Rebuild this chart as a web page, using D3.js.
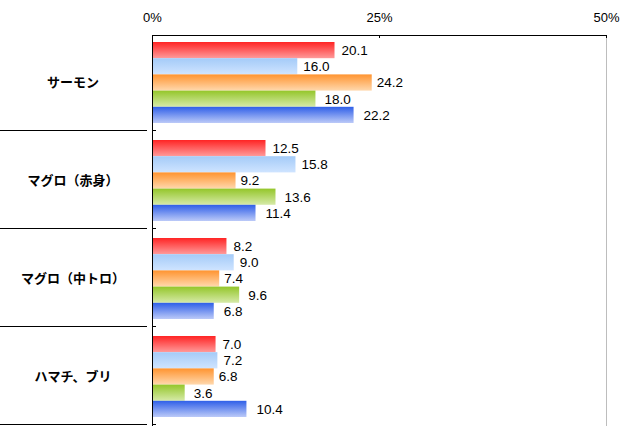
<!DOCTYPE html>
<html>
<head>
<meta charset="utf-8">
<script src="https://cdn.jsdelivr.net/npm/d3@7"></script>
<style>
  body { margin: 0; background: #fff; }
  svg { display: block; }
  .num { font-family: "Liberation Sans", Arial, sans-serif; font-size: 13.5px; fill: #000; }
  .tick text.num { font-size: 13px; }
  .cat { font-family: "Noto Sans CJK JP", sans-serif; font-size: 13px; font-weight: bold; fill: #000; }
</style>
</head>
<body>
<div class="viz"></div>
<script>
//////////////////////////
// Data
//////////////////////////

var categories = ['サーモン', 'マグロ（赤身）', 'マグロ（中トロ）', 'ハマチ、ブリ'];

// one array per series, in category order
var series1 = [20.1, 12.5, 8.2, 7.0];
var series2 = [16.0, 15.8, 9.0, 7.2];
var series3 = [24.2, 9.2, 7.4, 6.8];
var series4 = [18.0, 13.6, 9.6, 3.6];
var series5 = [22.2, 11.4, 6.8, 10.4];

var seriesKeys = ['s1', 's2', 's3', 's4', 's5'];
var seriesValues = [series1, series2, series3, series4, series5];

var tickValues = [0, 25, 50];

//////////////////////////
// Styles
//////////////////////////

// gradient top -> bottom for each series
var seriesColors = [
    ['#ff2424', '#ff9a9a'],
    ['#a4cbf8', '#cfe4ff'],
    ['#ff9430', '#ffd8ad'],
    ['#94c62a', '#d6eaa8'],
    ['#2f5fe8', '#bccaf8'],
];
var labelGaps = [7, 6, 5, 9, 10];

//////////////////////////
// D3 Stuff
//////////////////////////

var W = 627, H = 426;

var svg = d3.select('div.viz')
    .append('svg')
    .attr('width', W)
    .attr('height', H);

var defs = svg.append('defs');
seriesKeys.forEach(function(k, i) {
    var g = defs.append('linearGradient')
        .attr('id', 'grad-' + k)
        .attr('x1', 0).attr('y1', 0)
        .attr('x2', 0).attr('y2', 1);
    g.append('stop').attr('offset', '0%').attr('stop-color', seriesColors[i][0]);
    g.append('stop').attr('offset', '100%').attr('stop-color', seriesColors[i][1]);
});

var plotTop = 35;

var xScale = d3.scaleLinear()
    .domain([0, 50])
    .range([152, 606]);

var yScale = d3.scaleBand()
    .domain(categories)
    .range([31.5, 423.5]);

var innerScale = d3.scaleBand()
    .domain(seriesKeys)
    .range([10.5, 91.5]);

// right gridline (50%)
svg.append('line')
    .attr('x1', xScale(50)).attr('x2', xScale(50))
    .attr('y1', plotTop).attr('y2', H)
    .attr('stroke', '#bdbdbd')
    .attr('shape-rendering', 'crispEdges');

// bars
var rows = [];
categories.forEach(function(c, ci) {
    seriesKeys.forEach(function(k, si) {
        rows.push({ cat: c, key: k, si: si, value: seriesValues[si][ci] });
    });
});

var barGroup = svg.append('g').attr('class', 'bars');

barGroup.selectAll('rect.bar')
    .data(rows)
    .enter()
    .append('rect')
    .attr('class', 'bar')
    .attr('x', xScale(0))
    .attr('y', function(d) { return yScale(d.cat) + innerScale(d.key); })
    .attr('width', function(d) { return xScale(d.value) - xScale(0); })
    .attr('height', innerScale.bandwidth())
    .attr('fill', function(d) { return 'url(#grad-' + d.key + ')'; });

// value labels with white box
var labels = barGroup.selectAll('g.lbl')
    .data(rows)
    .enter()
    .append('g')
    .attr('class', 'lbl')
    .attr('transform', function(d) {
        return 'translate(' + (xScale(d.value) + labelGaps[d.si]) + ',' +
            (yScale(d.cat) + innerScale(d.key) + innerScale.bandwidth() / 2) + ')';
    });

labels.append('rect').attr('fill', '#fff');
labels.append('text')
    .attr('class', 'num')
    .attr('dy', '0.36em')
    .text(function(d) { return d.value.toFixed(1); });
labels.each(function() {
    var g = d3.select(this);
    var bb = g.select('text').node().getBBox();
    g.select('rect')
        .attr('x', bb.x - 1).attr('y', bb.y + 1)
        .attr('width', bb.width + 2).attr('height', bb.height - 2);
});

// top axis
var xAxis = svg.append('g')
    .attr('transform', 'translate(0,' + plotTop + ')')
    .call(d3.axisTop(xScale)
        .tickValues(tickValues)
        .tickSizeInner(-3)
        .tickSizeOuter(0)
        .tickPadding(13)
        .tickFormat(function(d) { return d + '%'; }));
xAxis.attr('font-family', null).attr('font-size', null);
xAxis.select('.domain').attr('stroke', '#000').attr('shape-rendering', 'crispEdges');
xAxis.selectAll('.tick line').attr('stroke', '#000').attr('shape-rendering', 'crispEdges');
xAxis.selectAll('.tick text')
    .attr('class', 'num')
    .attr('fill', null);

// left axis line
svg.append('line')
    .attr('x1', xScale(0)).attr('x2', xScale(0))
    .attr('y1', plotTop).attr('y2', H)
    .attr('stroke', '#000')
    .attr('shape-rendering', 'crispEdges');

// category separators and inward ticks
var seps = svg.append('g').attr('class', 'seps');
categories.forEach(function(c) {
    var y = Math.round(yScale(c) + yScale.step()) + 0.5;
    seps.append('line')
        .attr('x1', 0).attr('x2', xScale(0) - 5)
        .attr('y1', y).attr('y2', y)
        .attr('stroke', '#000');
    seps.append('line')
        .attr('x1', xScale(0)).attr('x2', xScale(0) + 4)
        .attr('y1', y).attr('y2', y)
        .attr('stroke', '#000');
});

// category labels
svg.append('g')
    .selectAll('text')
    .data(categories)
    .enter()
    .append('text')
    .attr('class', 'cat')
    .attr('x', 73)
    .attr('y', function(d) { return yScale(d) + yScale.step() / 2 + 2; })
    .attr('text-anchor', 'middle')
    .attr('dy', '0.36em')
    .text(function(d) { return d; });
</script>
</body>
</html>
